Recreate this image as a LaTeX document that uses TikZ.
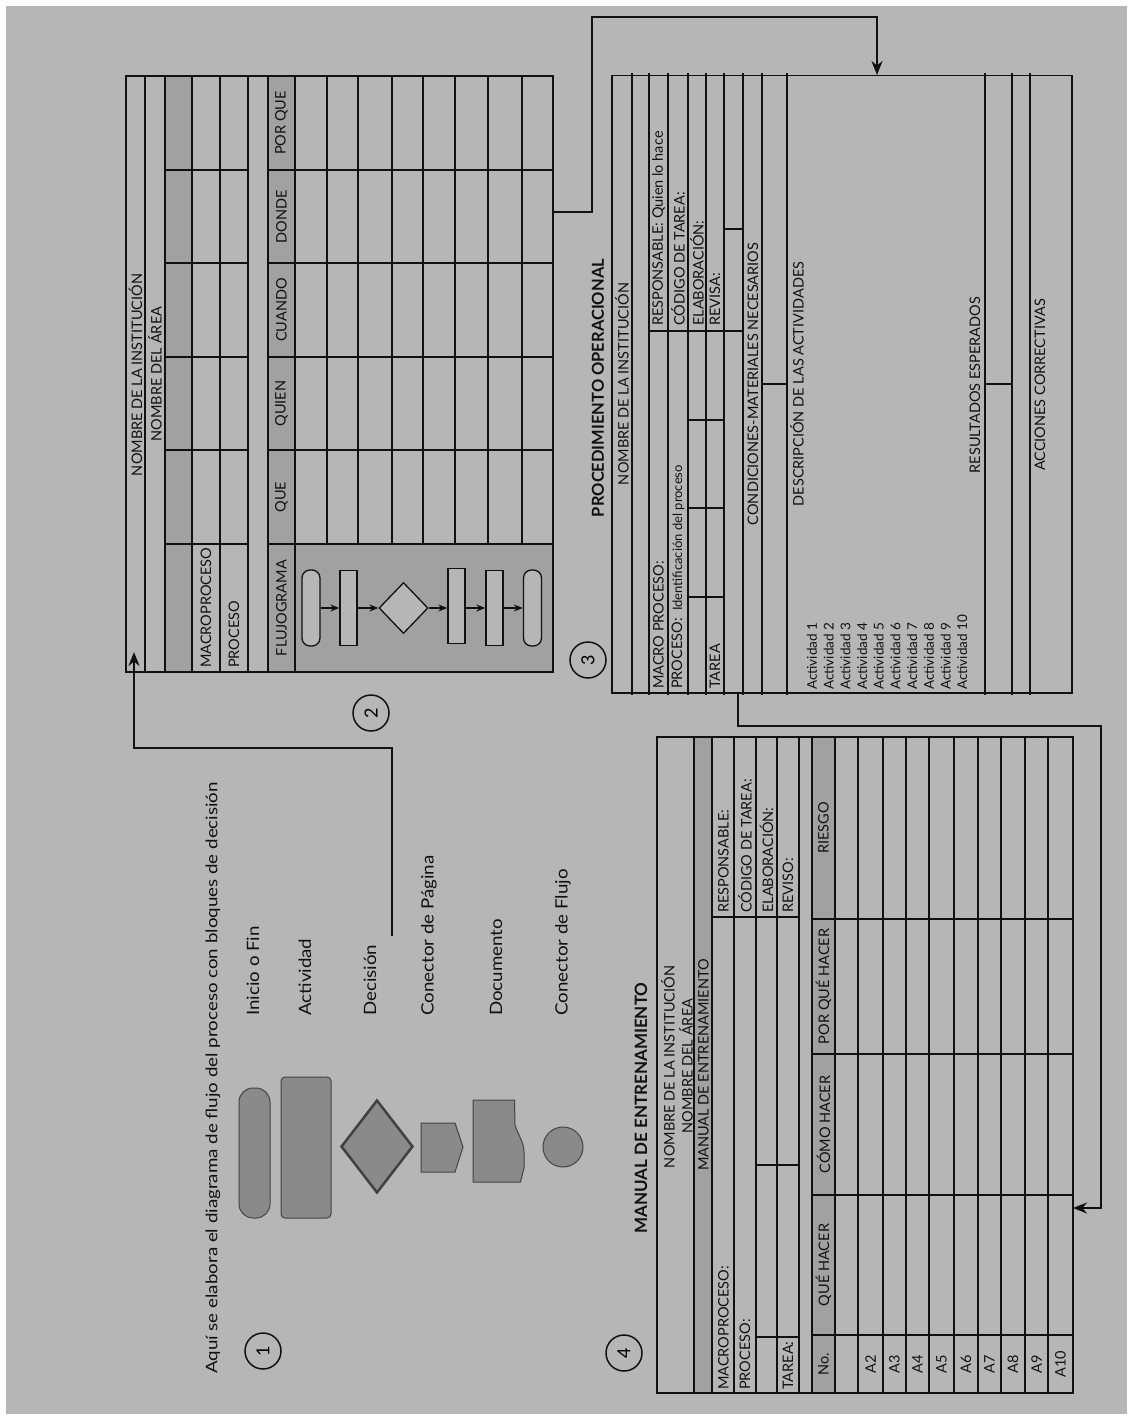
\documentclass[tikz,border=0pt]{standalone}
\usepackage{fontspec}
\setmainfont{Lato}
\newfontfamily\legfont{Lato}[FakeStretch=1.1]
\newfontfamily\introfont{Lato}[FakeStretch=1.17]
\usetikzlibrary{arrows.meta,shapes.geometric,calc}
\newcommand\fsz[1]{\fontsize{#1}{#1}\selectfont}
\definecolor{bg}{HTML}{B6B6B6}
\definecolor{shd}{HTML}{A1A1A1}
\definecolor{shp}{HTML}{8A8A8A}
\definecolor{ink}{HTML}{111111}
\definecolor{edge}{HTML}{444444}
\begin{document}
\begin{tikzpicture}[x=1pt,y=-1pt,
  txt/.style={rotate=90, inner sep=0pt, text=ink, font=\fsz{14.5}},
  ttl/.style={rotate=90, inner sep=0pt, text=ink, font=\fsz{16.5}\bfseries},
  leg/.style={rotate=90, inner sep=0pt, text=ink, font=\legfont\fsz{17}},
  big/.style={rotate=90, inner sep=0pt, text=ink, font=\introfont\fsz{16}},
  thickln/.style={line width=2.8pt, draw=ink},
  thinln/.style={line width=1.2pt, draw=ink},
  midln/.style={line width=1.6pt, draw=ink},
  conn/.style={line width=2.8pt, draw=ink},
  tip/.style={-{Stealth[length=14pt,width=11pt]}},
  num/.style={circle, draw=ink, line width=1.5pt, minimum size=36pt, inner sep=0pt, font=\fsz{18}, rotate=90},
  fterm/.style={draw=ink, fill=bg, line width=1.3pt, rounded corners=8pt, minimum width=18pt, minimum height=76pt, inner sep=0pt},
  fact/.style={draw=ink, fill=bg, line width=1.3pt, minimum width=17pt, minimum height=75pt, inner sep=0pt},
  fdec/.style={diamond, draw=ink, fill=bg, line width=1.3pt, minimum width=49pt, minimum height=51pt, inner sep=0pt},
  farr/.style={draw=ink, line width=1.3pt, -{Stealth[length=9pt,width=7pt]}},
  lshape/.style={draw=edge, fill=shp, line width=1pt, inner sep=0pt}
]
\useasboundingbox (0,0) rectangle (1133,1420);
\fill[white] (0,0) rectangle (1133,1420);
\fill[bg] (6,6) rectangle (1127,1414);

% ---------------- Table 2 ----------------
\fill[shd] (165,76) rectangle (192,672);
\fill[shd] (268,76) rectangle (295,672);
\fill[shd] (295,544) rectangle (553,672);
\draw[thickln] (126,76) rectangle (553,672);
\foreach \x in {145,165,192,220,248,268,295} \draw[thickln] (\x,76) -- (\x,672);
\foreach \x in {327,358,392,423,455,488,522} \draw[thickln] (\x,76) -- (\x,544);
\foreach \y in {170,263,357,450,544} {\draw[thickln] (165,\y) -- (248,\y); \draw[thickln] (268,\y) -- (553,\y);}
\node[txt] (t2a) at (135.5,375) {NOMBRE DE LA INSTITUCIÓN};
\node[txt] (t2b) at (155,374) {NOMBRE DEL ÁREA};
\node[txt, anchor=west] (t2c) at (206,668) {MACROPROCESO};
\node[txt, anchor=west] (t2d) at (234,668) {PROCESO};
\node[txt] (t2e) at (281.5,608) {FLUJOGRAMA};
\node[txt] (t2f) at (281.5,497) {QUE};
\node[txt] (t2g) at (281.5,403.5) {QUIEN};
\node[txt] (t2h) at (281.5,310) {CUANDO};
\node[txt] (t2i) at (281.5,216.5) {DONDE};
\node[txt] (t2j) at (281.5,123) {POR QUE};
\node[fterm] (f1) at (311,608) {};
\node[fact] (f2) at (348.5,608) {};
\node[fdec] (f3) at (403.5,608) {};
\node[fact] (f4) at (456.5,606) {};
\node[fact] (f5) at (494.5,608) {};
\node[fterm] (f6) at (532.5,608) {};
\draw[farr] (f1) -- (f2);
\draw[farr] (f2) -- (f3);
\draw[farr] (f3) -- (f4.west |- f3);
\draw[farr] (f4.east |- f3) -- (f5);
\draw[farr] (f5) -- (f6);
\node[num] (n2) at (371,713) {2};

% ---------------- Table 3 ----------------
\draw[thinln] (612,75.5) rectangle (1072,693);
\foreach \x in {632,649,668,688,706,724,743,762,787,985,1012,1030} \draw[thinln] (\x,73.5) -- (\x,695);
\draw[thinln] (649,331) -- (743,331);
\draw[thinln] (724,229) -- (743,229);
\foreach \y in {420,508,597} \draw[thinln] (688,\y) -- (724,\y);
\draw[thinln] (762,384) -- (787,384);
\draw[thinln] (985,384) -- (1012,384);
\node[ttl] (t3t) at (598,388) {PROCEDIMIENTO OPERACIONAL};
\node[txt] (t3a) at (622,384) {NOMBRE DE LA INSTITUCIÓN};
\node[txt, anchor=west] (t3b) at (658.5,689) {MACRO PROCESO:};
\node[txt, anchor=west] (t3c) at (678,689) {PROCESO:\ \ {\fsz{13}Identificación del proceso}};
\node[txt, anchor=west] (t3d) at (715,689) {TAREA};
\node[txt, anchor=west] (t3e) at (658.5,326) {RESPONSABLE:\ Quien lo hace};
\node[txt, anchor=west] (t3f) at (678,326) {CÓDIGO DE TAREA:};
\node[txt, anchor=west] (t3g) at (697,326) {ELABORACIÓN:};
\node[txt, anchor=west] (t3h) at (715,326) {REVISA:};
\node[txt] (t3i) at (753,384) {CONDICIONES-MATERIALES NECESARIOS};
\node[txt] (t3j) at (797,384) {DESCRIPCIÓN DE LAS ACTIVIDADES};
\foreach \i in {1,...,10} \node[txt, font=\fsz{13.5}, anchor=west] (act\i) at ({812+(\i-1)*16.7},690) {Actividad \i};
\node[txt] (t3k) at (975,385) {RESULTADOS ESPERADOS};
\node[txt] (t3l) at (1040,385) {ACCIONES CORRECTIVAS};
\node[num] (n3) at (588,660) {3};

% ---------------- Table 4 ----------------
\fill[shd] (694,737) rectangle (712,1393);
\fill[shd] (812,737) rectangle (835,1393);
\draw[midln] (657,737) rectangle (1073,1393);
\foreach \x in {694,712,734,756,777,799,812,835,858,883,906,929,954,978,1001,1025,1048} \draw[midln] (\x,737) -- (\x,1393);
\draw[midln] (712,917) -- (799,917);
\foreach \y in {919,1054,1195,1335} \draw[midln] (812,\y) -- (1073,\y);
\foreach \y in {1165,1337} \draw[midln] (756,\y) -- (799,\y);
\node[ttl] (t4t) at (641,1108) {\fsz{17}MANUAL DE ENTRENAMIENTO};
\node[txt] (t4a) at (668,1067) {NOMBRE DE LA INSTITUCIÓN};
\node[txt] (t4b) at (686,1066) {NOMBRE DEL ÁREA};
\node[txt] (t4c) at (703.5,1065) {MANUAL DE ENTRENAMIENTO};
\node[txt, anchor=west] (t4d) at (723.5,1390) {MACROPROCESO:};
\node[txt, anchor=west] (t4e) at (745,1390) {PROCESO:};
\node[txt, anchor=west] (t4f) at (788,1390) {TAREA:};
\node[txt, anchor=west] (t4g) at (723.5,913) {RESPONSABLE:};
\node[txt, anchor=west] (t4h) at (745,913) {CÓDIGO DE TAREA:};
\node[txt, anchor=west] (t4i) at (766.5,913) {ELABORACIÓN:};
\node[txt, anchor=west] (t4j) at (788,913) {REVISO:};
\node[txt] (t4k) at (823.5,1364) {No.};
\node[txt] (t4l) at (823.5,1265) {QUÉ HACER};
\node[txt] (t4m) at (823.5,1124.5) {CÓMO HACER};
\node[txt] (t4n) at (823.5,986.5) {POR QUÉ HACER};
\node[txt] (t4o) at (823.5,828) {RIESGO};
\foreach \x/\l in {870.5/A2,894.5/A3,917.5/A4,941.5/A5,966/A6,989.5/A7,1013/A8,1036.5/A9,1060.5/A10}
  \node[txt] (r\l) at (\x,1364) {\l};
\node[num] (n4) at (624,1353) {4};

% ---------------- Legend ----------------
\node[big, anchor=west] (intro) at (213,1374) {Aquí se elabora el diagrama de flujo del proceso con bloques de decisión};
\node[num] (n1) at (263,1351) {1};
\node[lshape, rounded corners=14pt, minimum width=31pt, minimum height=130pt] (lterm) at (254.5,1153) {};
\node[lshape, rounded corners=4pt, minimum width=50pt, minimum height=141pt] (lact) at (306,1147.5) {};
\node[lshape, diamond, draw=ink!80, line width=2.5pt, minimum width=72pt, minimum height=93pt] (ldec) at (377,1146.5) {};
\draw[draw=edge, fill=shp, line width=1pt] (421,1123) -- (455,1123) -- (463,1147) -- (455,1172) -- (421,1172) -- cycle;
\draw[draw=edge, fill=shp, line width=1pt] (473,1100) -- (514.5,1100) -- (515,1125) .. controls (518,1135) and (524,1142) .. (524,1152) -- (524,1168) -- (520.5,1182) -- (473,1182) -- cycle;
\node[lshape, circle, minimum size=40pt] (lcon) at (563,1147) {};
\node[leg, anchor=west] (l1) at (253,1016) {Inicio o Fin};
\node[leg, anchor=west] (l2) at (305,1016) {Actividad};
\node[leg, anchor=west] (l3) at (370,1016) {Decisión};
\node[leg, anchor=west] (l4) at (429,1016) {Conector de Página};
\node[leg, anchor=west] (l5) at (496,1016) {Documento};
\node[leg, anchor=west] (l6) at (563,1016) {Conector de Flujo};

% ---------------- Connectors ----------------
\coordinate (s12) at (392,936);
\coordinate (e12) at (134,652);
\draw[conn, tip] (s12) |- (134,748) -- (e12);
\coordinate (s23) at (553,212);
\coordinate (e23) at (877,75);
\draw[conn, tip] (s23) -- (592,212) -- (592,17) -| (e23);
\coordinate (s34) at (738,693);
\coordinate (e34) at (1073,1208);
\draw[conn, tip] (s34) |- (1101,726) |- (e34);
\end{tikzpicture}
\end{document}
